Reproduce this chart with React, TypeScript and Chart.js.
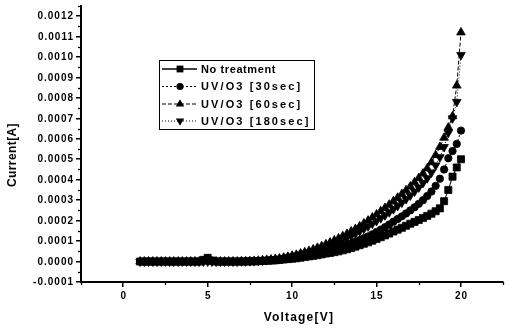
import React, { useEffect, useRef } from 'react';
import { Chart, registerables } from 'chart.js';

Chart.register(...registerables);

// Voltage sweep [V]
const voltage = [
  1, 1.25, 1.5, 1.75, 2, 2.25, 2.5, 2.75, 3, 3.25, 3.5, 3.75, 4, 4.25, 4.5, 4.75,
  5, 5.25, 5.5, 5.75, 6, 6.25, 6.5, 6.75, 7, 7.25, 7.5, 7.75, 8, 8.25, 8.5, 8.75,
  9, 9.25, 9.5, 9.75, 10, 10.25, 10.5, 10.75, 11, 11.25, 11.5, 11.75, 12, 12.25, 12.5, 12.75,
  13, 13.25, 13.5, 13.75, 14, 14.25, 14.5, 14.75, 15, 15.25, 15.5, 15.75, 16, 16.25, 16.5, 16.75,
  17, 17.25, 17.5, 17.75, 18, 18.25, 18.5, 18.75, 19, 19.25, 19.5, 19.75, 20,
];

// Current values in units of 1e-4 A
const noTreatment = [
  0, 0, 0, 0, 0, 0, 0, 0, 0, 0, 0, 0, 0, 0, 0, 0.08,
  0.18, 0.05, 0, 0, 0, 0, 0, 0, 0, 0, 0.01, 0.01, 0.02, 0.03, 0.04, 0.05,
  0.06, 0.08, 0.1, 0.12, 0.14, 0.16, 0.19, 0.22, 0.25, 0.28, 0.31, 0.35, 0.39, 0.42, 0.46, 0.5,
  0.55, 0.6, 0.66, 0.73, 0.8, 0.87, 0.94, 1.02, 1.1, 1.19, 1.28, 1.37, 1.47, 1.56, 1.65, 1.75,
  1.85, 1.94, 2.03, 2.13, 2.23, 2.34, 2.46, 2.6, 2.95, 3.5, 4.15, 4.6, 5.0,
];
const uv30 = [
  0, 0, 0, 0, 0, 0, 0, 0, 0, 0, 0, 0, 0, 0, 0, 0.06,
  0.15, 0.04, 0, 0, 0, 0, 0, 0, 0.01, 0.01, 0.02, 0.02, 0.03, 0.04, 0.05, 0.07,
  0.08, 0.1, 0.12, 0.14, 0.17, 0.2, 0.24, 0.28, 0.32, 0.36, 0.41, 0.46, 0.51, 0.56, 0.62, 0.68,
  0.75, 0.82, 0.89, 0.97, 1.05, 1.14, 1.23, 1.33, 1.45, 1.56, 1.68, 1.81, 1.95, 2.08, 2.21, 2.35,
  2.5, 2.65, 2.82, 3.0, 3.2, 3.42, 3.7, 4.05, 4.5, 5.05, 5.4, 5.75, 6.4,
];
const uv60 = [
  0, 0, 0, 0, 0, 0, 0, 0, 0, 0, 0, 0, 0, 0, 0, 0,
  0, 0, 0, 0, 0, 0, 0, 0, 0.01, 0.01, 0.02, 0.03, 0.04, 0.06, 0.08, 0.1,
  0.12, 0.15, 0.19, 0.23, 0.28, 0.33, 0.39, 0.45, 0.52, 0.59, 0.67, 0.75, 0.84, 0.93, 1.03, 1.13,
  1.24, 1.35, 1.47, 1.59, 1.72, 1.86, 2.0, 2.15, 2.3, 2.46, 2.62, 2.78, 2.95, 3.12, 3.3, 3.48,
  3.67, 3.87, 4.08, 4.3, 4.55, 4.85, 5.2, 5.6, 6.05, 6.55, 7.1, 8.6, 11.2,
];
const uv180 = [
  0, 0, 0, 0, 0, 0, 0, 0, 0, 0, 0, 0, 0, 0, 0, 0,
  0, 0, 0, 0, 0, 0, 0, 0, 0.01, 0.01, 0.02, 0.02, 0.03, 0.05, 0.07, 0.09,
  0.11, 0.14, 0.17, 0.21, 0.25, 0.29, 0.34, 0.39, 0.45, 0.51, 0.57, 0.64, 0.72, 0.8, 0.88, 0.97,
  1.06, 1.16, 1.26, 1.37, 1.48, 1.6, 1.72, 1.85, 1.98, 2.12, 2.26, 2.41, 2.56, 2.72, 2.88, 3.05,
  3.23, 3.42, 3.62, 3.84, 4.07, 4.35, 4.7, 5.1, 5.6, 6.3, 7.0, 7.8, 10.1,
];

const seriesNames = ['No treatment', 'UV/O3 [30sec]', 'UV/O3 [60sec]', 'UV/O3 [180sec]'];

const yTickValues = [-1, 0, 1, 2, 3, 4, 5, 6, 7, 8, 9, 10, 11, 12];
const yTickLabels = [
  '-0.0001', '0.0000', '0.0001', '0.0002', '0.0003', '0.0004', '0.0005',
  '0.0006', '0.0007', '0.0008', '0.0009', '0.0010', '0.0011', '0.0012',
];
const yMinorTicks = [-0.5, 0.5, 1.5, 2.5, 3.5, 4.5, 5.5, 6.5, 7.5, 8.5, 9.5, 10.5, 11.5, 12.5];
const xTickValues = [0, 5, 10, 15, 20];
const xTickLabels = ['0', '5', '10', '15', '20'];
const xMinorTicks = [-2.5, 2.5, 7.5, 12.5, 17.5, 22.5];

const FONT = '"Liberation Sans", Arial, sans-serif';

type Marker = 'rect' | 'circle' | 'up' | 'down';
const markers: Marker[] = ['rect', 'circle', 'up', 'down'];
const dashes: number[][] = [[], [2, 2], [4, 2], [1, 2]];

function drawMarker(ctx: CanvasRenderingContext2D, m: Marker, x: number, y: number) {
  ctx.beginPath();
  if (m === 'rect') {
    ctx.rect(x - 3.4, y - 3.4, 6.8, 6.8);
  } else if (m === 'circle') {
    ctx.arc(x, y, 3.6, 0, Math.PI * 2);
  } else if (m === 'up') {
    ctx.moveTo(x, y - 4.8);
    ctx.lineTo(x + 4.2, y + 2.4);
    ctx.lineTo(x - 4.2, y + 2.4);
    ctx.closePath();
  } else {
    ctx.moveTo(x, y + 4.8);
    ctx.lineTo(x + 4.2, y - 2.4);
    ctx.lineTo(x - 4.2, y - 2.4);
    ctx.closePath();
  }
  ctx.fill();
}

const overlayPlugin = {
  id: 'overlay',
  afterDraw(chart: any) {
    const ctx: CanvasRenderingContext2D = chart.ctx;
    const xs = chart.scales.x;
    const ys = chart.scales.y;
    ctx.save();
    ctx.fillStyle = '#000';
    ctx.strokeStyle = '#000';

    // minor ticks
    ctx.lineWidth = 1.3;
    yMinorTicks.forEach((v) => {
      const py = Math.round(ys.getPixelForValue(v)) + 0.5;
      ctx.beginPath();
      ctx.moveTo(xs.left - 3, py);
      ctx.lineTo(xs.left, py);
      ctx.stroke();
    });
    xMinorTicks.forEach((v) => {
      const px = Math.round(xs.getPixelForValue(v)) + 0.5;
      ctx.beginPath();
      ctx.moveTo(px, ys.bottom);
      ctx.lineTo(px, ys.bottom + 3);
      ctx.stroke();
    });

    // tick labels
    (ctx as any).letterSpacing = '1px';
    ctx.font = `bold 10px ${FONT}`;
    ctx.textAlign = 'right';
    ctx.textBaseline = 'middle';
    yTickValues.forEach((v, i) => {
      ctx.fillText(yTickLabels[i], 74, ys.getPixelForValue(v) + 0.5);
    });
    ctx.textAlign = 'center';
    xTickValues.forEach((v, i) => {
      ctx.fillText(xTickLabels[i], xs.getPixelForValue(v) + 0.5, 296);
    });

    // axis titles
    ctx.font = `bold 12px ${FONT}`;
    (ctx as any).letterSpacing = '1.2px';
    ctx.fillText('Voltage[V]', (xs.getPixelForValue(10) + xs.getPixelForValue(10.8)) / 2, 318);
    ctx.save();
    (ctx as any).letterSpacing = '0.4px';
    ctx.translate(13, 155);
    ctx.rotate(-Math.PI / 2);
    ctx.fillText('Current[A]', 0, 0);
    ctx.restore();

    // legend
    const bx = 159, by = 60, bw = 155, bh = 69;
    ctx.lineWidth = 1;
    ctx.strokeRect(bx + 0.5, by + 0.5, bw, bh);
    const rows = [69, 86.5, 104, 121];
    ctx.textAlign = 'left';
    ctx.font = `bold 11px ${FONT}`;
    seriesNames.forEach((name, i) => {
      const ry = rows[i];
      ctx.setLineDash(dashes[i]);
      ctx.lineWidth = i === 0 ? 1.5 : 1;
      ctx.beginPath();
      ctx.moveTo(162, ry);
      ctx.lineTo(197, ry);
      ctx.stroke();
      ctx.setLineDash([]);
      drawMarker(ctx, markers[i], 180, ry);
      (ctx as any).letterSpacing = i === 0 ? '0.6px' : '2.1px';
      ctx.fillText(name, 201, ry + 0.5);
    });
    ctx.restore();
  },
};

export default function App() {
  const ref = useRef<HTMLCanvasElement>(null);

  useEffect(() => {
    document.body.style.margin = '0';
    const series = [noTreatment, uv30, uv60, uv180];
    const pointStyles = ['rect', 'circle', 'triangle', 'triangle'];
    const radii = [5, 3.7, 5, 5];
    const rotations = [0, 0, 0, 180];
    const datasets = series.map((vals, i) => ({
      label: seriesNames[i],
      data: vals.map((v, k) => ({ x: voltage[k], y: v })),
      showLine: true,
      borderColor: '#000',
      backgroundColor: '#000',
      borderWidth: 1,
      borderDash: dashes[i],
      pointStyle: pointStyles[i] as any,
      pointRadius: radii[i],
      pointRotation: rotations[i],
      pointBorderWidth: 0.8,
      pointBorderColor: '#000',
      pointBackgroundColor: '#000',
    }));

    const chart = new Chart(ref.current as HTMLCanvasElement, {
      type: 'scatter',
      data: { datasets },
      options: {
        animation: false,
        responsive: false,
        devicePixelRatio: 1,
        layout: { padding: { top: 5, right: 0, left: 0, bottom: 0 } },
        plugins: { legend: { display: false }, tooltip: { enabled: false } },
        scales: {
          x: {
            type: 'linear',
            min: -2.5,
            max: 22.5,
            afterBuildTicks: (s: any) => {
              s.ticks = xTickValues.map((v) => ({ value: v }));
            },
            afterFit: (s: any) => {
              s.height = 47;
            },
            ticks: { display: false },
            grid: { drawOnChartArea: false, drawTicks: true, tickLength: 5, color: '#000', lineWidth: 1.5 },
            border: { display: true, color: '#000', width: 2 },
          },
          y: {
            type: 'linear',
            min: -1,
            max: 12.5,
            afterBuildTicks: (s: any) => {
              s.ticks = yTickValues.map((v) => ({ value: v }));
            },
            afterFit: (s: any) => {
              s.width = 81;
            },
            ticks: { display: false },
            grid: { drawOnChartArea: false, drawTicks: true, tickLength: 5, color: '#000', lineWidth: 1.5 },
            border: { display: true, color: '#000', width: 2 },
          },
        },
      } as any,
      plugins: [overlayPlugin],
    });
    return () => chart.destroy();
  }, []);

  return (
    <canvas
      ref={ref}
      width={509}
      height={329}
      style={{ display: 'block', width: 509, height: 329 }}
    />
  );
}
